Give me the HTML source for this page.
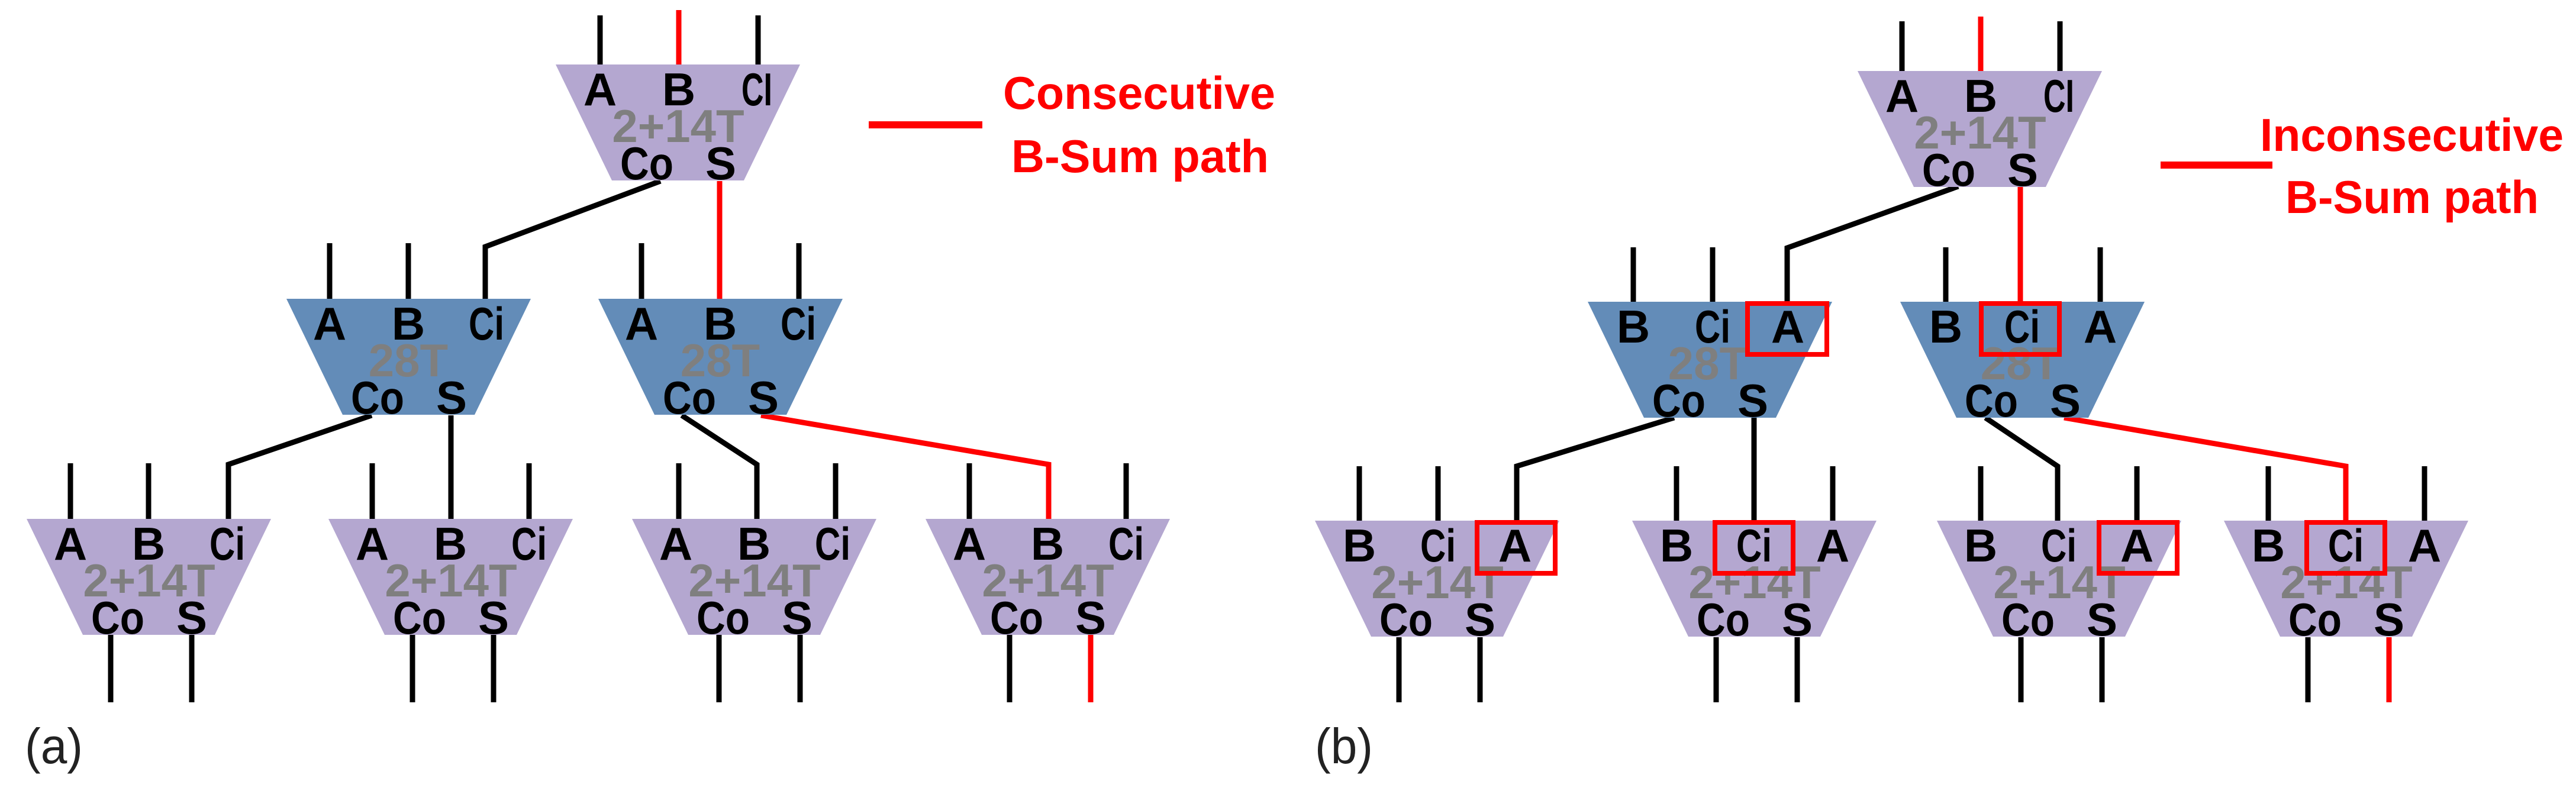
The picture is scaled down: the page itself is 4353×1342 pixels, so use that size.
<!DOCTYPE html>
<html><head><meta charset="utf-8"><style>
html,body{margin:0;padding:0;background:#fff;}
svg{display:block;}
text{font-family:"Liberation Sans",sans-serif;}
.l{font-weight:bold;font-size:78px;fill:#000;text-anchor:middle;}
.g{font-weight:bold;font-size:78px;fill:#7f7f7f;text-anchor:middle;}
.r{font-weight:bold;font-size:78px;fill:#ff0000;}
.k{stroke:#000;stroke-width:9;fill:none;}
.rd{stroke:#ff0000;stroke-width:9;fill:none;}
.bx{stroke:#ff0000;stroke-width:8;fill:none;}
</style></head><body>
<svg width="4353" height="1342" viewBox="0 0 4353 1342" xmlns="http://www.w3.org/2000/svg">
<defs>
<path id="tp" d="M0,0 L413,0 L318,196 L95,196 Z"/>
</defs>

<!-- ================= LEFT (a) ================= -->
<!-- wires -->
<g class="k">
<line x1="1014" y1="26" x2="1014" y2="109"/>
<line x1="1281" y1="26" x2="1281" y2="109"/>
<polyline points="1116,306 820,417 820,505"/>
<line x1="557" y1="411" x2="557" y2="505"/>
<line x1="690" y1="411" x2="690" y2="505"/>
<line x1="1350" y1="411" x2="1350" y2="505"/>
<line x1="1084" y1="411" x2="1084" y2="505"/>
<polyline points="628,702 386,785 386,877"/>
<line x1="762" y1="702" x2="762" y2="877"/>
<polyline points="1152,702 1279,785 1279,877"/>
<!-- bottom inputs -->
<line x1="119" y1="783" x2="119" y2="877"/><line x1="251" y1="783" x2="251" y2="877"/>
<line x1="629" y1="783" x2="629" y2="877"/><line x1="894" y1="783" x2="894" y2="877"/>
<line x1="1147" y1="783" x2="1147" y2="877"/><line x1="1412" y1="783" x2="1412" y2="877"/>
<line x1="1638" y1="783" x2="1638" y2="877"/><line x1="1903" y1="783" x2="1903" y2="877"/>
<!-- outputs -->
<line x1="187" y1="1073" x2="187" y2="1187"/><line x1="324" y1="1073" x2="324" y2="1187"/>
<line x1="697" y1="1073" x2="697" y2="1187"/><line x1="834" y1="1073" x2="834" y2="1187"/>
<line x1="1215" y1="1073" x2="1215" y2="1187"/><line x1="1352" y1="1073" x2="1352" y2="1187"/>
<line x1="1706" y1="1073" x2="1706" y2="1187"/>
</g>
<g class="rd">
<line x1="1147" y1="17" x2="1147" y2="109"/>
<line x1="1216" y1="306" x2="1216" y2="505"/>
<polyline points="1286,702 1772,785 1772,877"/>
<line x1="1843" y1="1073" x2="1843" y2="1187"/>
<line x1="1468" y1="211" x2="1660" y2="211" stroke-width="12"/>
</g>

<!-- nodes -->
<use href="#tp" x="939" y="109" fill="#b4a7d0"/>
<use href="#tp" x="484" y="505" fill="#638cb8"/>
<use href="#tp" x="1011" y="505" fill="#638cb8"/>
<use href="#tp" x="45" y="877" fill="#b4a7d0"/>
<use href="#tp" x="555" y="877" fill="#b4a7d0"/>
<use href="#tp" x="1068" y="877" fill="#b4a7d0"/>
<use href="#tp" x="1564" y="877" fill="#b4a7d0"/>

<!-- labels left -->
<g>
<!-- top -->
<text class="l" x="1014" y="178">A</text><text class="l" x="1147" y="178">B</text><text class="l" x="1279" y="178" textLength="52" lengthAdjust="spacingAndGlyphs">CI</text>
<text class="g" x="1146" y="240">2+14T</text>
<text class="l" x="1093" y="303" textLength="90" lengthAdjust="spacingAndGlyphs">Co</text><text class="l" x="1218" y="303">S</text>
<!-- mid left -->
<text class="l" x="557" y="574">A</text><text class="l" x="690" y="574">B</text><text class="l" x="822" y="574" textLength="60" lengthAdjust="spacingAndGlyphs">Ci</text>
<text class="g" x="690" y="636">28T</text>
<text class="l" x="638" y="699" textLength="90" lengthAdjust="spacingAndGlyphs">Co</text><text class="l" x="763" y="699">S</text>
<!-- mid right -->
<text class="l" x="1084" y="574">A</text><text class="l" x="1217" y="574">B</text><text class="l" x="1349" y="574" textLength="60" lengthAdjust="spacingAndGlyphs">Ci</text>
<text class="g" x="1217" y="636">28T</text>
<text class="l" x="1165" y="699" textLength="90" lengthAdjust="spacingAndGlyphs">Co</text><text class="l" x="1290" y="699">S</text>
<!-- bottom -->
<text class="l" x="119" y="946">A</text><text class="l" x="251" y="946">B</text><text class="l" x="384" y="946" textLength="60" lengthAdjust="spacingAndGlyphs">Ci</text>
<text class="g" x="252" y="1008">2+14T</text>
<text class="l" x="199" y="1071" textLength="90" lengthAdjust="spacingAndGlyphs">Co</text><text class="l" x="324" y="1071">S</text>

<text class="l" x="629" y="946">A</text><text class="l" x="761" y="946">B</text><text class="l" x="894" y="946" textLength="60" lengthAdjust="spacingAndGlyphs">Ci</text>
<text class="g" x="762" y="1008">2+14T</text>
<text class="l" x="709" y="1071" textLength="90" lengthAdjust="spacingAndGlyphs">Co</text><text class="l" x="834" y="1071">S</text>

<text class="l" x="1142" y="946">A</text><text class="l" x="1274" y="946">B</text><text class="l" x="1407" y="946" textLength="60" lengthAdjust="spacingAndGlyphs">Ci</text>
<text class="g" x="1275" y="1008">2+14T</text>
<text class="l" x="1222" y="1071" textLength="90" lengthAdjust="spacingAndGlyphs">Co</text><text class="l" x="1347" y="1071">S</text>

<text class="l" x="1638" y="946">A</text><text class="l" x="1770" y="946">B</text><text class="l" x="1903" y="946" textLength="60" lengthAdjust="spacingAndGlyphs">Ci</text>
<text class="g" x="1771" y="1008">2+14T</text>
<text class="l" x="1718" y="1071" textLength="90" lengthAdjust="spacingAndGlyphs">Co</text><text class="l" x="1843" y="1071">S</text>
</g>
<text class="r" x="1695" y="184" textLength="460" lengthAdjust="spacingAndGlyphs">Consecutive</text>
<text class="r" x="1709" y="291" textLength="435" lengthAdjust="spacingAndGlyphs">B-Sum path</text>
<text x="42" y="1290" font-size="84" fill="#222" textLength="98" lengthAdjust="spacingAndGlyphs">(a)</text>

<!-- ================= RIGHT (b) ================= -->
<g class="k">
<line x1="3214" y1="36" x2="3214" y2="120"/>
<line x1="3481" y1="36" x2="3481" y2="120"/>
<polyline points="3309,315 3020,419 3020,510"/>
<line x1="2760" y1="418" x2="2760" y2="510"/>
<line x1="2894" y1="418" x2="2894" y2="510"/>
<line x1="3549" y1="418" x2="3549" y2="510"/>
<line x1="3288" y1="418" x2="3288" y2="510"/>
<polyline points="2829,706 2563,788 2563,880"/>
<line x1="2964" y1="706" x2="2964" y2="880"/>
<polyline points="3355,706 3477,788 3477,880"/>
<!-- bottom inputs -->
<line x1="2297" y1="788" x2="2297" y2="880"/><line x1="2430" y1="788" x2="2430" y2="880"/>
<line x1="2833" y1="788" x2="2833" y2="880"/><line x1="3097" y1="788" x2="3097" y2="880"/>
<line x1="3347" y1="788" x2="3347" y2="880"/><line x1="3611" y1="788" x2="3611" y2="880"/>
<line x1="3833" y1="788" x2="3833" y2="880"/><line x1="4097" y1="788" x2="4097" y2="880"/>
<!-- outputs -->
<line x1="2364" y1="1077" x2="2364" y2="1187"/><line x1="2501" y1="1077" x2="2501" y2="1187"/>
<line x1="2900" y1="1077" x2="2900" y2="1187"/><line x1="3037" y1="1077" x2="3037" y2="1187"/>
<line x1="3415" y1="1077" x2="3415" y2="1187"/><line x1="3552" y1="1077" x2="3552" y2="1187"/>
<line x1="3900" y1="1077" x2="3900" y2="1187"/>
</g>
<g class="rd">
<line x1="3347" y1="28" x2="3347" y2="120"/>
<line x1="3414" y1="315" x2="3414" y2="510"/>
<polyline points="3488,706 3964,788 3964,880"/>
<line x1="4037" y1="1077" x2="4037" y2="1187"/>
<line x1="3651" y1="279" x2="3840" y2="279" stroke-width="12"/>
</g>

<use href="#tp" x="3139" y="120" fill="#b4a7d0"/>
<use href="#tp" x="2683" y="510" fill="#638cb8"/>
<use href="#tp" x="3211" y="510" fill="#638cb8"/>
<use href="#tp" x="2222" y="880" fill="#b4a7d0"/>
<use href="#tp" x="2758" y="880" fill="#b4a7d0"/>
<use href="#tp" x="3273" y="880" fill="#b4a7d0"/>
<use href="#tp" x="3758" y="880" fill="#b4a7d0"/>

<g>
<!-- top -->
<text class="l" x="3214" y="189">A</text><text class="l" x="3347" y="189">B</text><text class="l" x="3479" y="189" textLength="52" lengthAdjust="spacingAndGlyphs">CI</text>
<text class="g" x="3346" y="251">2+14T</text>
<text class="l" x="3293" y="314" textLength="90" lengthAdjust="spacingAndGlyphs">Co</text><text class="l" x="3418" y="314">S</text>
<!-- mid left -->
<text class="l" x="2760" y="579">B</text><text class="l" x="2894" y="579" textLength="60" lengthAdjust="spacingAndGlyphs">Ci</text><text class="l" x="3021" y="579">A</text>
<text class="g" x="2886" y="641">28T</text>
<text class="l" x="2837" y="704" textLength="90" lengthAdjust="spacingAndGlyphs">Co</text><text class="l" x="2962" y="704">S</text>
<rect class="bx" x="2953" y="513" width="134" height="86"/>
<!-- mid right -->
<text class="l" x="3288" y="579">B</text><text class="l" x="3417" y="579" textLength="60" lengthAdjust="spacingAndGlyphs">Ci</text><text class="l" x="3549" y="579">A</text>
<text class="g" x="3414" y="641">28T</text>
<text class="l" x="3365" y="704" textLength="90" lengthAdjust="spacingAndGlyphs">Co</text><text class="l" x="3490" y="704">S</text>
<rect class="bx" x="3348" y="513" width="132" height="86"/>
<!-- bottom -->
<text class="l" x="2297" y="949">B</text><text class="l" x="2430" y="949" textLength="60" lengthAdjust="spacingAndGlyphs">Ci</text><text class="l" x="2560" y="949">A</text>
<text class="g" x="2429" y="1011">2+14T</text>
<text class="l" x="2376" y="1074" textLength="90" lengthAdjust="spacingAndGlyphs">Co</text><text class="l" x="2501" y="1074">S</text>
<rect class="bx" x="2496" y="883" width="132" height="86"/>

<text class="l" x="2833" y="949">B</text><text class="l" x="2964" y="949" textLength="60" lengthAdjust="spacingAndGlyphs">Ci</text><text class="l" x="3097" y="949">A</text>
<text class="g" x="2965" y="1011">2+14T</text>
<text class="l" x="2912" y="1074" textLength="90" lengthAdjust="spacingAndGlyphs">Co</text><text class="l" x="3037" y="1074">S</text>
<rect class="bx" x="2898" y="883" width="132" height="86"/>

<text class="l" x="3347" y="949">B</text><text class="l" x="3479" y="949" textLength="60" lengthAdjust="spacingAndGlyphs">Ci</text><text class="l" x="3611" y="949">A</text>
<text class="g" x="3480" y="1011">2+14T</text>
<text class="l" x="3427" y="1074" textLength="90" lengthAdjust="spacingAndGlyphs">Co</text><text class="l" x="3552" y="1074">S</text>
<rect class="bx" x="3547" y="883" width="132" height="86"/>

<text class="l" x="3833" y="949">B</text><text class="l" x="3964" y="949" textLength="60" lengthAdjust="spacingAndGlyphs">Ci</text><text class="l" x="4097" y="949">A</text>
<text class="g" x="3965" y="1011">2+14T</text>
<text class="l" x="3912" y="1074" textLength="90" lengthAdjust="spacingAndGlyphs">Co</text><text class="l" x="4037" y="1074">S</text>
<rect class="bx" x="3898" y="883" width="132" height="86"/>
</g>
<text class="r" x="3819" y="255" textLength="513" lengthAdjust="spacingAndGlyphs">Inconsecutive</text>
<text class="r" x="3862" y="360" textLength="428" lengthAdjust="spacingAndGlyphs">B-Sum path</text>
<text x="2222" y="1290" font-size="84" fill="#222" textLength="98" lengthAdjust="spacingAndGlyphs">(b)</text>
</svg>
</body></html>
